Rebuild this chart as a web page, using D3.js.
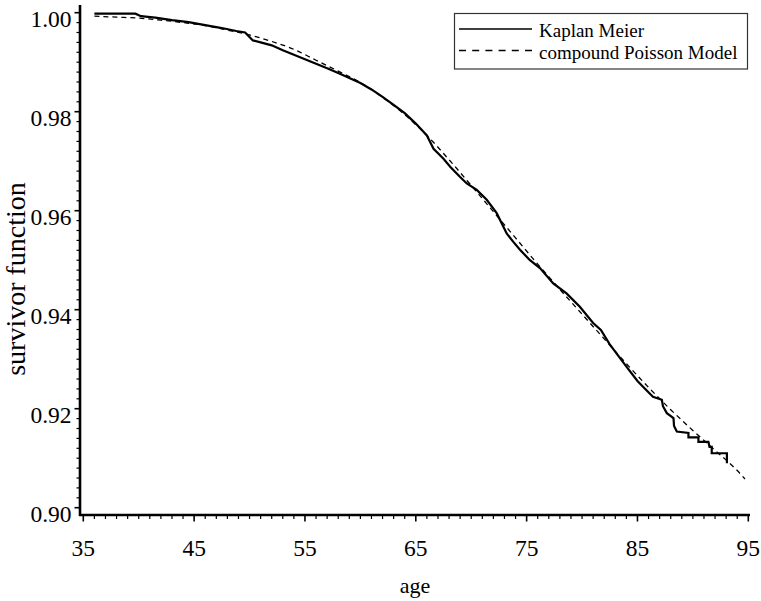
<!DOCTYPE html>
<html>
<head>
<meta charset="utf-8">
<script src="https://cdn.jsdelivr.net/npm/d3@7"></script>
<style>
  html, body { margin: 0; padding: 0; background: #fff; }
  svg { display: block; }
</style>
</head>
<body>
<svg id="chart" width="761" height="601"></svg>
<script>
// ---- data (Kaplan Meier estimate; repeated ages are step drops) ----
const kmAges = [36.0, 39.7, 40.2, 41.5, 43.0, 44.5, 46.0, 47.5, 48.8, 49.6, 50.3, 51.0, 52.0, 53.0, 54.0, 55.0, 56.0, 57.0, 58.0, 59.0, 60.0, 61.0, 62.0, 63.0, 64.0, 65.0, 66.0, 66.6, 67.5, 68.1, 69.0, 69.6, 70.5, 71.4, 72.3, 73.2, 73.8, 74.4, 75.3, 76.2, 77.4, 78.6, 79.8, 81.0, 81.7, 82.5, 83.9, 85.0, 85.7, 86.4, 87.2, 87.3, 87.65, 88.25, 88.3, 88.55, 89.6, 89.6, 90.5, 90.5, 91.4, 91.5, 91.7, 91.7, 93.07, 93.07];
const kmSurv = [0.9998, 0.9998, 0.9993, 0.9990, 0.9985, 0.9981, 0.9975, 0.9969, 0.9963, 0.9960, 0.9944, 0.9940, 0.9934, 0.9924, 0.9915, 0.9906, 0.9897, 0.9888, 0.9878, 0.9868, 0.9858, 0.9845, 0.9830, 0.9814, 0.9797, 0.9776, 0.9752, 0.9725, 0.9705, 0.9689, 0.9668, 0.9655, 0.9642, 0.9622, 0.9595, 0.9554, 0.9537, 0.9521, 0.9500, 0.9484, 0.9453, 0.9433, 0.9406, 0.9373, 0.9359, 0.9330, 0.9288, 0.9256, 0.9240, 0.9224, 0.9218, 0.9205, 0.9191, 0.9181, 0.9165, 0.9154, 0.9151, 0.9142, 0.9142, 0.9133, 0.9133, 0.9123, 0.9123, 0.9110, 0.9110, 0.9090];

// compound Poisson model
const cpAges = [36, 38, 40, 42, 44, 46, 48, 50, 52, 54, 56, 58, 60, 62, 64, 66, 68, 70, 72, 74, 76, 78, 80, 82, 84, 86, 88, 90, 92, 94, 94.7];
const cpSurv = [0.9993, 0.9991, 0.9989, 0.9985, 0.9980, 0.9974, 0.9965, 0.9955, 0.9942, 0.9926, 0.9904, 0.9882, 0.9859, 0.9829, 0.9794, 0.9752, 0.9703, 0.9651, 0.9598, 0.9545, 0.9492, 0.9441, 0.9391, 0.9341, 0.9291, 0.9243, 0.9198, 0.9156, 0.9116, 0.9075, 0.9058];

const xMajor = [35, 45, 55, 65, 75, 85, 95];
const yMajor = [0.90, 0.92, 0.94, 0.96, 0.98, 1.00];
const xLabel = "age";
const yLabel = "survivor function";
const legendLabels = ["Kaplan Meier", "compound Poisson Model"];

// ---- drawing ----
const FONT = "'Liberation Serif', 'Times New Roman', Times, serif";
const svg = d3.select("#chart");
const x = d3.scaleLinear().domain([35, 95]).range([83.3, 748.3]);
const y = d3.scaleLinear().domain([0.90, 1.00]).range([507.7, 12.7]);

const axisX0 = 80, axisY0 = 515;

const xMinor = d3.range(35, 95.01, 1).filter(v => !xMajor.includes(Math.round(v)));
const yMinor = d3.range(0, 51).map(i => +(0.90 + i * 0.002).toFixed(3)).filter(v => !yMajor.some(m => Math.abs(m - v) < 1e-9));

const g = svg.append("g");

g.selectAll("line.xmin").data(xMinor).join("line")
  .attr("x1", d => x(d)).attr("x2", d => x(d))
  .attr("y1", axisY0).attr("y2", axisY0 + 4)
  .attr("stroke", "#000").attr("stroke-width", 1.2);
g.selectAll("line.xmaj").data(xMajor).join("line")
  .attr("x1", d => x(d)).attr("x2", d => x(d))
  .attr("y1", axisY0).attr("y2", axisY0 + 6.5)
  .attr("stroke", "#000").attr("stroke-width", 1.6);

g.selectAll("line.ymin").data(yMinor).join("line")
  .attr("y1", d => y(d)).attr("y2", d => y(d))
  .attr("x1", axisX0).attr("x2", axisX0 - 3.5)
  .attr("stroke", "#000").attr("stroke-width", 1.2);
g.selectAll("line.ymaj").data(yMajor).join("line")
  .attr("y1", d => y(d)).attr("y2", d => y(d))
  .attr("x1", axisX0).attr("x2", axisX0 - 5.5)
  .attr("stroke", "#000").attr("stroke-width", 1.6);

g.append("line").attr("x1", axisX0).attr("x2", axisX0).attr("y1", 5).attr("y2", axisY0 + 1)
  .attr("stroke", "#000").attr("stroke-width", 2.6);
g.append("line").attr("x1", axisX0 - 1).attr("x2", 750).attr("y1", axisY0).attr("y2", axisY0)
  .attr("stroke", "#000").attr("stroke-width", 2.6);

g.selectAll("text.xt").data(xMajor).join("text")
  .attr("x", d => x(d)).attr("y", 556)
  .attr("text-anchor", "middle").attr("font-size", "23.5px").attr("font-family", FONT)
  .text(d => d);
g.selectAll("text.yt").data(yMajor).join("text")
  .attr("x", 71.5).attr("y", d => y(d) + 13.8)
  .attr("text-anchor", "end").attr("font-size", "23.5px").attr("font-family", FONT)
  .text(d => d3.format(".2f")(d));

g.append("text").attr("x", 415).attr("y", 593).attr("text-anchor", "middle")
  .attr("font-size", "22px").attr("font-family", FONT).text(xLabel);
g.append("text").attr("transform", "translate(25,279) rotate(-90)")
  .attr("text-anchor", "middle").attr("font-size", "28px").attr("font-family", FONT).text(yLabel);

const kmData = kmAges.map((a, i) => [a, kmSurv[i]]);
const cpData = cpAges.map((a, i) => [a, cpSurv[i]]);

const cpLine = d3.line().x(d => x(d[0])).y(d => y(d[1])).curve(d3.curveMonotoneX);
g.append("path").datum(cpData).attr("d", cpLine)
  .attr("fill", "none").attr("stroke", "#000").attr("stroke-width", 1.3)
  .attr("stroke-dasharray", "5,4");

const kmLine = d3.line().x(d => x(d[0])).y(d => y(d[1])).curve(d3.curveLinear);
g.append("path").datum(kmData).attr("d", kmLine)
  .attr("fill", "none").attr("stroke", "#000").attr("stroke-width", 2.2)
  .attr("stroke-linejoin", "miter");

const lg = svg.append("g");
lg.append("rect").attr("x", 454.5).attr("y", 13.5).attr("width", 293).attr("height", 55.5)
  .attr("fill", "#fff").attr("stroke", "#333").attr("stroke-width", 1.2);
lg.append("line").attr("x1", 459).attr("x2", 532).attr("y1", 29).attr("y2", 29)
  .attr("stroke", "#000").attr("stroke-width", 1.5);
lg.append("line").attr("x1", 459).attr("x2", 532).attr("y1", 50.5).attr("y2", 50.5)
  .attr("stroke", "#000").attr("stroke-width", 1.5).attr("stroke-dasharray", "7,6.2");
lg.selectAll("text").data(legendLabels).join("text")
  .attr("x", 539).attr("y", (d, i) => i === 0 ? 37 : 58.5)
  .attr("font-size", "19px").attr("font-family", FONT).text(d => d);
</script>
</body>
</html>
